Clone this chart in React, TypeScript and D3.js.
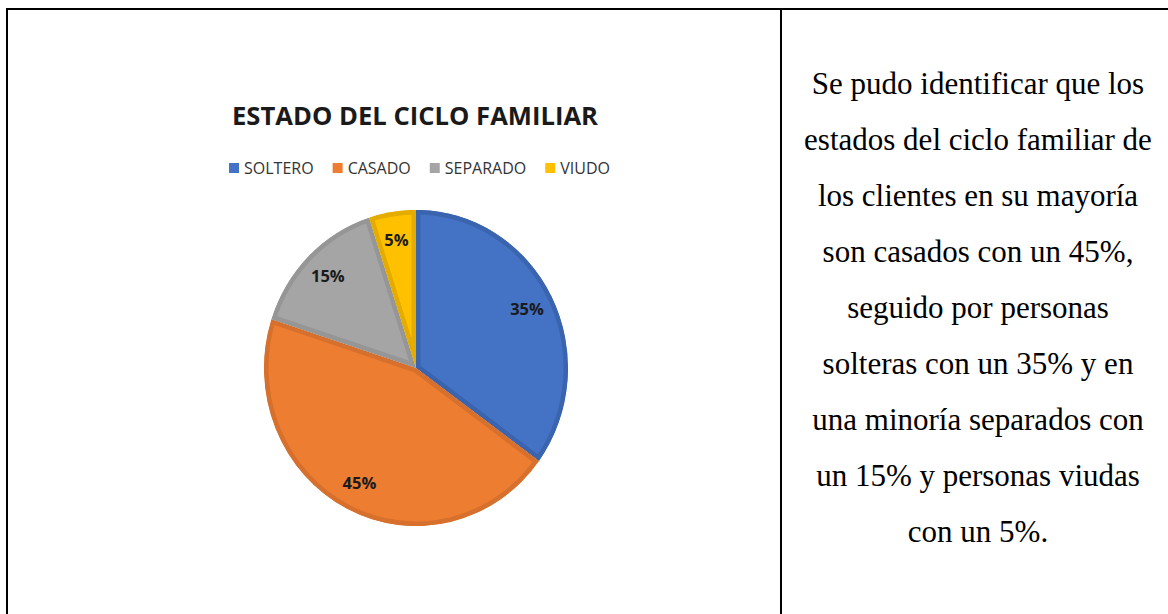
import React, { useEffect, useRef } from 'react'
import * as d3 from 'd3'

const title = 'ESTADO DEL CICLO FAMILIAR'
const categories = ['SOLTERO', 'CASADO', 'SEPARADO', 'VIUDO']
const values = [35, 45, 15, 5]
const fills = ['#4472C4', '#ED7D31', '#A5A5A5', '#FFC000']
const borders = ['#3B64AE', '#D6702C', '#969696', '#E5AC00']
const textLines = [
  'Se pudo identificar que los',
  'estados del ciclo familiar de',
  'los clientes en su mayoría',
  'son casados con un 45%,',
  'seguido por personas',
  'solteras con un 35% y en',
  'una minoría separados con',
  'un 15% y personas viudas',
  'con un 5%.',
]

const W = 1168
const H = 614

export default function App() {
  const svgRef = useRef<SVGSVGElement>(null)

  useEffect(() => {
    document.body.style.margin = '0'
    const svgEl = d3.select(svgRef.current)
    svgEl.selectAll('*').remove()

    // table borders
    const grid = svgEl.append('g').attr('fill', '#000')
    grid.append('rect').attr('x', 6).attr('y', 8).attr('width', W - 6).attr('height', 2)
    grid.append('rect').attr('x', 6).attr('y', 8).attr('width', 2).attr('height', H - 8)
    grid.append('rect').attr('x', 780).attr('y', 8).attr('width', 2).attr('height', H - 8)

    // title
    svgEl
      .append('text')
      .attr('x', 415)
      .attr('y', 125)
      .attr('text-anchor', 'middle')
      .attr('font-family', "'Open Sans', sans-serif")
      .attr('font-weight', 700)
      .attr('font-size', 25)
      .attr('fill', '#1a1a1a')
      .attr('textLength', 366)
      .attr('lengthAdjust', 'spacingAndGlyphs')
      .text(title)

    // legend
    const legend = svgEl.append('g')
    let lx = 0
    categories.forEach((c, i) => {
      const item = legend.append('g').attr('transform', `translate(${lx},0)`)
      item.append('rect').attr('x', 0).attr('y', -5).attr('width', 10).attr('height', 10).attr('fill', fills[i])
      const t = item
        .append('text')
        .attr('x', 15)
        .attr('y', 5.5)
        .attr('font-family', "'Open Sans', sans-serif")
        .attr('font-size', 16)
        .attr('fill', '#333')
        .text(c)
      const tw = (t.node() as SVGTextElement).getComputedTextLength()
      lx += 15 + tw + 19
    })
    const legendW = lx - 19
    legend.attr('transform', `translate(${419.5 - legendW / 2},168)`)

    // pie
    const r = 152
    const sy = 1.04
    const pie = d3
      .pie<number>()
      .sort(null)
      .value((d) => d)
    const arcs = pie(values)
    const arc = d3.arc<d3.PieArcDatum<number>>().innerRadius(0).outerRadius(r)
    const labelArc = d3.arc<d3.PieArcDatum<number>>().innerRadius(r * 0.82).outerRadius(r * 0.82)

    const cx = 416
    const cy = 368
    const defs = svgEl.append('defs')
    const g = svgEl.append('g').attr('transform', `translate(${cx},${cy}) scale(1,${sy})`)

    arcs.forEach((a, i) => {
      defs
        .append('clipPath')
        .attr('id', `slice-clip-${i}`)
        .append('path')
        .attr('d', arc(a) as string)
      g.append('path')
        .attr('d', arc(a) as string)
        .attr('fill', fills[i])
        .attr('stroke', borders[i])
        .attr('stroke-width', 9)
        .attr('stroke-linejoin', 'round')
        .attr('clip-path', `url(#slice-clip-${i})`)
    })

    const lbl = svgEl.append('g').attr('transform', `translate(${cx},${cy})`)
    arcs.forEach((a) => {
      const [x, y] = labelArc.centroid(a)
      lbl
        .append('text')
        .attr('x', x)
        .attr('y', y * sy)
        .attr('dy', '0.36em')
        .attr('text-anchor', 'middle')
        .attr('font-family', "'Open Sans', sans-serif")
        .attr('font-weight', 700)
        .attr('font-size', 16.5)
        .attr('fill', '#1a1a1a')
        .text(`${a.data}%`)
    })

    // commentary text
    const para = svgEl
      .append('g')
      .attr('font-family', "'Liberation Serif', 'Times New Roman', serif")
      .attr('font-size', 31)
      .attr('fill', '#000')
      .attr('text-anchor', 'middle')
    textLines.forEach((line, i) => {
      para
        .append('text')
        .attr('x', 978)
        .attr('y', 94 + i * 56)
        .text(line)
    })
  }, [])

  return <svg ref={svgRef} width={W} height={H} style={{ display: 'block', background: '#fff' }} />
}
